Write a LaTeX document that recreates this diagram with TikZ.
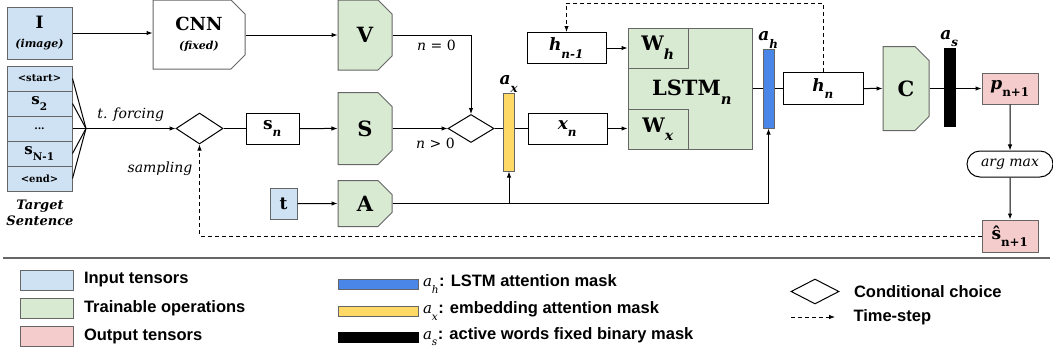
\documentclass[tikz,border=0pt]{standalone}
\usepackage{fontspec}
\setmainfont{DejaVu Serif}
\newfontfamily\legfont{Liberation Sans}
\usetikzlibrary{shapes.geometric,shapes.misc,arrows.meta,positioning}
\definecolor{inblue}{HTML}{CFE2F3}
\definecolor{opgreen}{HTML}{D9EAD3}
\definecolor{outpink}{HTML}{F4CCCC}
\definecolor{axyellow}{HTML}{FFD966}
\definecolor{ahblue}{HTML}{4A86E8}
\definecolor{edgegray}{HTML}{666666}
\newcommand\fs[1]{\fontsize{#1}{\dimexpr#1pt*6/5\relax}\selectfont}
\newcommand\lsub[1]{\raisebox{-.5ex}{\textsubscript{#1}}}
\newcommand\skipdots{...}
\begin{document}
\begin{tikzpicture}[x=1pt,y=-1pt,line width=1pt,
		every node/.style={inner sep=0pt,font=\bfseries\fs{17}},
		inbox/.style={draw=edgegray,fill=inblue},
		opbox/.style={draw=edgegray,fill=opgreen,chamfered rectangle,
			chamfered rectangle corners={north east,south east},
			chamfered rectangle xsep=7pt,chamfered rectangle ysep=7pt},
		outbox/.style={draw=edgegray,fill=outpink},
		plainbox/.style={draw=black,fill=white},
		choice/.style={draw=black,fill=white,diamond},
		maskbar/.style={draw=edgegray,minimum width=11pt},
		big/.style={font=\bfseries\fs{21}},
		note/.style={font=\mdseries\itshape\fs{14}},
		legtext/.style={font=\legfont\bfseries\fs{16.5},anchor=west},
		conn/.style={-{Latex[length=6pt,width=4.5pt]}},
		stepline/.style={conn,dash pattern=on 4pt off 3pt}
	]
	\useasboundingbox (0,0) rectangle (1053,356);
	% inputs
	\node[inbox,minimum width=65pt,minimum height=52pt,align=center] (img) at (39.5,33)
		{I\\[-2pt]{\itshape\fs{11}(image)}};
	\foreach \lbl [count=\i] in {{\fs{10}<start>},{\fs{15}s\lsub{2}},{\fs{10}\skipdots},{\fs{15}s\lsub{N-1}},{\fs{10}<end>}}
		\node[inbox,minimum width=65pt,minimum height=25pt] (w\i) at (39.5,53.5+25*\i) {\lbl};
	\node[font=\bfseries\itshape\fs{13},align=center] (tgt) at (40,213) {Target\\Sentence};
	\coordinate (join) at (86,128.5);
	\foreach \i in {1,...,5}
		\draw (w\i.east) -- (join);
	\node[choice,minimum width=47pt,minimum height=31pt] (d1) at (199.5,128.5) {};
	\draw[conn] (join) -- (d1.west) node[midway,above=6pt,note] {t. forcing};
	\node[note] (smp) at (160,169) {sampling};
	\node[plainbox,minimum width=53pt,minimum height=31pt] (sn) at (272.5,128.5) {s\lsub{\itshape n}};
	\draw (d1.east) -- (sn.west);
	% encoders
	\node[opbox,fill=white,minimum width=92pt,minimum height=69pt,align=center,font=\bfseries\fs{18}] (cnn) at (199,34.5)
		{CNN\\[-2pt]{\itshape\fs{11}(fixed)}};
	\draw[conn] (img.east) -- (img.east -| cnn.west);
	\node[opbox,big,minimum width=54pt,minimum height=70pt] (V) at (365,35) {V};
	\draw[conn] (V.west -| cnn.east) -- (V.west);
	\node[opbox,big,minimum width=54pt,minimum height=72pt] (S) at (365,128.5) {S};
	\draw[conn] (sn) -- (S);
	\node[inbox,minimum width=27pt,minimum height=31pt] (t) at (283.5,203.5) {t};
	\node[opbox,big,minimum width=54pt,minimum height=46pt] (A) at (365,203.5) {A};
	\draw[conn] (t) -- (A);
	\node[choice,minimum width=46pt,minimum height=28pt] (d2) at (471,128.5) {};
	\draw[conn] (V.east) -| (d2.north) node[pos=0.28,below=5pt,note] {n \upshape= 0};
	\draw[conn] (S.east) -- (d2.west) node[pos=0.78,below=9pt,note] {n \upshape> 0};
	% attention and lstm
	\node[maskbar,fill=axyellow,minimum height=78pt,label={[font=\bfseries\itshape\fs{17}]above:a\lsub{x}}] (ax) at (509,132) {};
	\draw (d2.east) -- (d2.east -| ax.west);
	\node[plainbox,minimum width=79pt,minimum height=31pt] (xn) at (567.5,128.5) {\itshape x\lsub{n}};
	\draw (ax.east |- xn) -- (xn.west);
	\node[draw=edgegray,fill=opgreen,minimum width=124pt,minimum height=121pt] (lstm) at (690,88.5) {};
	\node[draw=edgegray,fill=opgreen,minimum width=60pt,minimum height=40pt,anchor=north west,font=\bfseries\fs{20}] (wh) at (lstm.north west) {W\lsub{\itshape h}};
	\node[draw=edgegray,fill=opgreen,minimum width=60pt,minimum height=40pt,anchor=south west,font=\bfseries\fs{20}] (wx) at (lstm.south west) {W\lsub{\itshape x}};
	\node[big] (lstmlbl) at (692,92) {LSTM\lsub{\itshape n}};
	\node[plainbox,minimum width=79pt,minimum height=31pt] (hn1) at (566.5,48) {\itshape h\lsub{n-1}};
	\draw[conn] (hn1.east) -- (hn1.east -| wh.west);
	\draw[conn] (xn.east) -- (xn.east -| wx.west);
	\draw[conn] (A.east) -| (ax.south);
	\node[maskbar,fill=ahblue,minimum height=79pt,label={[font=\bfseries\itshape\fs{17}]above:a\lsub{h}}] (ah) at (768.5,88.5) {};
	\draw[conn] (A.east) -| (ah.south);
	\draw (lstm.east) -- (lstm.east -| ah.west);
	\node[plainbox,minimum width=80pt,minimum height=32pt] (hn) at (823,88.5) {\itshape h\lsub{n}};
	\draw (ah.east |- hn) -- (hn.west);
	% output
	\node[opbox,big,minimum width=46pt,minimum height=84pt] (C) at (906,88.5) {C};
	\draw[conn] (hn) -- (C);
	\node[maskbar,draw=black,fill=black,minimum height=78pt,label={[font=\bfseries\itshape\fs{17}]above:a\lsub{s}}] (as) at (949.5,87) {};
	\draw (C.east) -- (C.east -| as.west);
	\node[outbox,minimum width=56pt,minimum height=31pt] (p) at (1010,88.5) {\textit{p}\lsub{n+1}};
	\draw[conn] (as.east |- p) -- (p.west);
	\node[rounded rectangle,draw=black,fill=white,minimum width=86pt,minimum height=26pt,note] (amax) at (1010,164) {arg max};
	\draw[conn] (p) -- (amax);
	\node[outbox,minimum width=56pt,minimum height=32pt] (shat) at (1010,236) {ŝ\lsub{n+1}};
	\draw[conn] (amax) -- (shat);
	% time-steps
	\coordinate (top) at (0,3);
	\draw[stepline] (hn.north) -- (hn.north |- top) -| (hn1.north);
	\draw[stepline] (shat.west) -| (d1.south);
	% legend
	\draw[edgegray,line width=1.5pt] (3,258) -- (1050,258);
	\foreach \col/\txt [count=\i] in {inblue/Input tensors,opgreen/Trainable operations,outpink/Output tensors}{
		\node[draw=edgegray,fill=\col,minimum width=53pt,minimum height=20pt] (lg\i) at (46.5,252+28*\i) {};
		\node[legtext,right=10pt of lg\i] {\txt};
	}
	\node[maskbar,fill=ahblue,minimum width=80pt,minimum height=10pt] (lgh) at (378,284) {};
	\node[legtext,right=4pt of lgh] {{\mdseries\itshape\rmfamily\fs{15}a\lsub{h}}: LSTM attention mask};
	\node[maskbar,fill=axyellow,minimum width=80pt,minimum height=10pt] (lgx) at (378,311) {};
	\node[legtext,right=4pt of lgx] {{\mdseries\itshape\rmfamily\fs{15}a\lsub{x}}: embedding attention mask};
	\node[maskbar,draw=black,fill=black,minimum width=80pt,minimum height=10pt] (lgs) at (378,337) {};
	\node[legtext,right=4pt of lgs] {{\mdseries\itshape\rmfamily\fs{15}a\lsub{s}}: active words fixed binary mask};
	\node[choice,minimum width=48pt,minimum height=25pt] (lgd) at (815,291.5) {};
	\node[legtext,right=14pt of lgd] {Conditional choice};
	\coordinate (lgt) at (791,317);
	\draw[stepline,line width=0.8pt] (lgt) -- ++(44,0) coordinate (lgt2);
	\node[legtext,right=18pt of lgt2] {Time-step};
\end{tikzpicture}
\end{document}
